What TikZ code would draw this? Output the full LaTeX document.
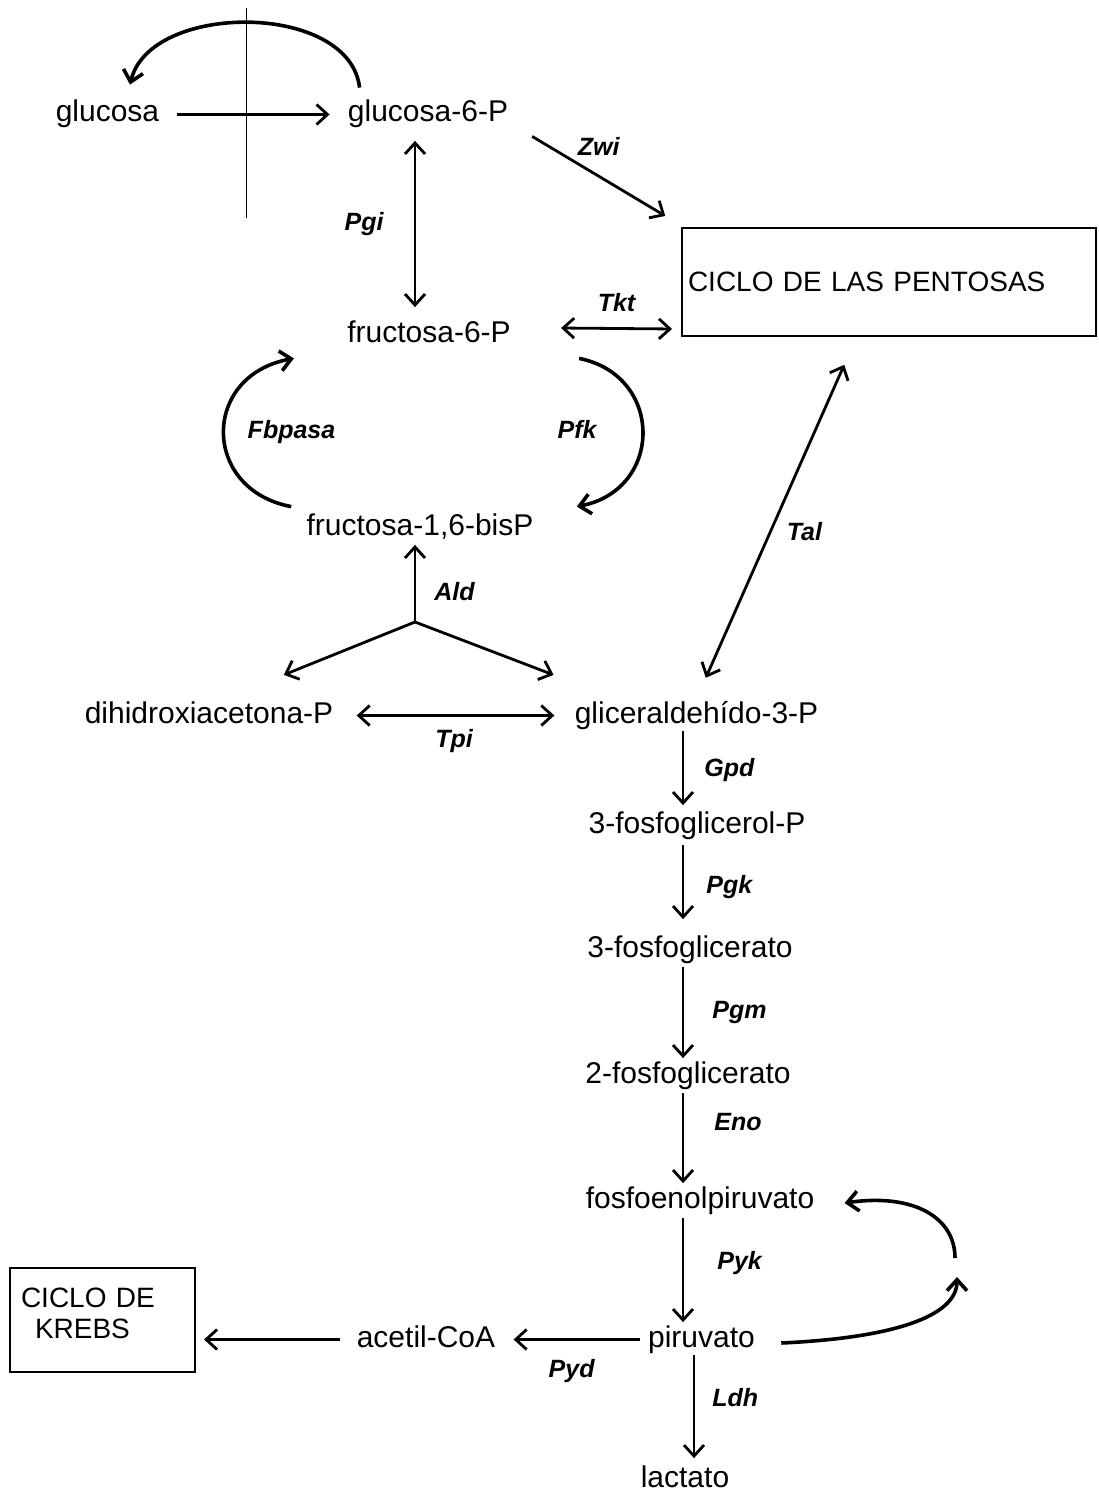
\documentclass[tikz,border=0pt]{standalone}
\usepackage{fontspec}
\setmainfont{Liberation Sans}
\usetikzlibrary{positioning, quotes, arrows.meta}
\tikzset{
  every edge quotes/.style = {enzyme},
  > = {Straight Barb[length = 5.5pt, width = 10pt]},
  metabolite/.style = {anchor = base, inner sep = 0pt, font = \fontsize{15}{18}\selectfont,
    text height = 11.25pt, text depth = 3.75pt},
  enzyme/.style = {inner sep = 0pt, font = \fontsize{12.5}{15}\selectfont\bfseries\itshape,
    text height = 9pt, text depth = 2.6pt},
  pathway/.style = {draw, line width = 1pt, inner sep = 3pt, align = left,
    font = \fontsize{14}{15.5}\selectfont},
  reaction/.style = {->, line width = 1.4pt, shorten > = 1pt, shorten < = 1pt},
  reversible/.style = {reaction, <->},
  bypass/.style = {->, line width = 1.8pt},
  membrane/.style = {line width = 0.4pt}
}

\begin{document}
\begin{tikzpicture}[x = 0.5pt, y = -0.5pt]
\useasboundingbox (0,0) rectangle (1098,1497);

%% Metabolites
\node [metabolite] (glc)  at (107.5, 122) {glucosa};
\node [metabolite] (g6p)  at (428, 122)   {glucosa-6-P};
\node [metabolite] (f6p)  at (429, 343)   {fructosa-6-P};
\node [metabolite] (fbp)  at (420, 535)   {fructosa-1,6-bisP};
\node [metabolite] (dhap) at (209, 723)   {dihidroxiacetona-P};
\node [metabolite] (gap)  at (696.5, 723) {gliceraldehído-3-P};
\node [metabolite] (g3pl) at (697, 833)   {3-fosfoglicerol-P};
\node [metabolite] (pg3)  at (690, 957)   {3-fosfoglicerato};
\node [metabolite] (pg2)  at (688, 1083)  {2-fosfoglicerato};
\node [metabolite] (pep)  at (700, 1208)  {fosfoenolpiruvato};
\node [metabolite] (pyr)  at (701.5, 1347) {piruvato};
\node [metabolite] (acoa) at (426, 1347)  {acetil-CoA};
\node [metabolite] (lac)  at (685, 1487)  {lactato};

%% Pathways
\node [pathway, text width = 201pt, minimum height = 54pt] (ppp) at (889, 282)
  {CICLO DE LAS PENTOSAS};
\node [pathway, inner sep = 5.5pt, text width = 81.5pt, minimum height = 52pt,
  text depth = 22.5pt] (tca) at (102.5, 1320) {CICLO DE\\\hspace*{7pt}KREBS};

%% Membrane and transport
\draw [membrane] (246, 8) -- (246, 218);
\path [reaction] (glc) edge [shorten < = 8.5pt, shorten > = 9pt] (g6p);
\draw [bypass] ([shift = {(12,-11.5)}]g6p.north west)
  .. controls +(-10,-86) and +(20,-83) .. ([shift = {(22.5,-14.5)}]glc.north);

%% Hexoses
\path [reaction] ([shift = {(22,5.5)}]g6p.south east)
  edge ["Zwi" {above = 7pt}] ([shift = {(-14,-10)}]ppp.north west);
\path [reversible] ([shift = {(-13,9)}]g6p.south)
  edge ["Pgi" {left = 15pt}] ([shift = {(-14,-11)}]f6p.north);
\path [reversible] ([shift = {(48,-7.5)}]f6p.east)
  edge ["Tkt" {above = 5pt}] ([shift = {(-7,-8)}]ppp.south west);
\draw [bypass] ([shift = {(-15,-5.5)}]fbp.north west)
  .. controls +(-90,-17) and +(-93,17) .. ([shift = {(-53,7.5)}]f6p.south west)
  node [enzyme, midway, right = 11pt] {Fbpasa};
\draw [bypass] ([shift = {(68,7.5)}]f6p.south east)
  .. controls +(85,17) and +(87,-17) .. ([shift = {(43,-5.5)}]fbp.north east)
  node [enzyme, midway, left = 22pt] {Pfk};

%% Triose phosphates
\coordinate (ald) at (415, 622);
\path [reaction, shorten < = 0pt] (ald) edge ["Ald" {right = 9pt, pos = .35}] (ald |- fbp.south);
\path [reaction, shorten < = 0pt] (ald) edge ([shift = {(73,-24.5)}]dhap.north)
  edge ([shift = {(-19,-24.5)}]gap.north west);
\path [reversible] (dhap)
  edge ["Tpi" {below = 6.5pt}, shorten < = 11.5pt, shorten > = 10pt] (gap);
\path [reversible] ([shift = {(8.5,-20.5)}]gap.north)
  edge ["Tal" {right = 8pt, pos = .46}] ([shift = {(-44,26)}]ppp.south);

%% Lower glycolysis
\coordinate (col) at (683, 0);
\coordinate (ldh) at (694, 0);
\path [reaction, shorten < = 0pt, shorten > = 2.5pt] (gap.south -| col)
  edge ["Gpd" {right = 10pt}] (g3pl.north -| col);
\path [reaction, shorten < = 2pt, shorten > = 7.5pt] (g3pl.south -| col)
  edge ["Pgk" {right = 11pt}] (pg3.north -| col);
\path [reaction] (pg3.south -| col) edge ["Pgm" {right = 14pt}] (pg2.north -| col);
\path [reaction] (pg2.south -| col) edge ["Eno" {right = 15pt, pos = .35}] (pep.north -| col);
\path [reaction] (pep.south -| col) edge ["Pyk" {right = 16.5pt, pos = .44}] (pyr.north -| col);
\path [reaction, shorten < = 0pt, shorten > = 3pt] (pyr.south -| ldh)
  edge ["Ldh" {right = 8.5pt, pos = .41}] (lac.north -| ldh);
\path [reaction] (pyr)
  edge ["Pyd" {below = 9.5pt}, shorten < = 4pt, shorten > = 9pt] (acoa);
\path [reaction] (acoa) edge [shorten < = 8pt, shorten > = 4pt] (tca.east |- acoa);

%% Pyruvate to PEP
\coordinate (pyrloop) at (957, 1277);
\coordinate (peploop) at (955, 1258);
\draw [bypass] ([shift = {(26,3.5)}]pyr.east)
  .. controls +(110,-5) and +(0,40) .. (pyrloop);
\draw [bypass] (peploop)
  .. controls +(0,-40) and +(70,-10) .. ([shift = {(30,2.5)}]pep.east);

\end{tikzpicture}
\end{document}
